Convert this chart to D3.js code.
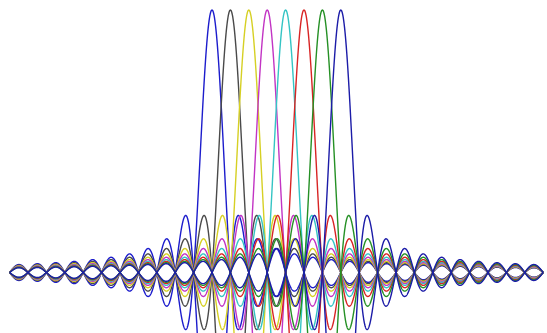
<!DOCTYPE html>
<html><head><meta charset="utf-8">
<script src="https://cdn.jsdelivr.net/npm/d3@7"></script>
<style>html,body{margin:0;padding:0;background:#fff;overflow:hidden}</style>
</head><body>
<svg id="c" width="547" height="333"></svg>
<script>
// Subcarrier centre frequencies (normalised units) and their colours
const carriers = [0, 1, 2, 3, 4, 5, 6, 7];
const colors = ["#1c1ccc", "#4a4a4a", "#d6d024", "#c234c4", "#34c4c4", "#d82424", "#259025", "#1c1ca8"];
const freqRange = [-11, 18];
const signs = [1, -1];

const svg = d3.select("#c");
const x = d3.scaleLinear().domain(freqRange).range([9.6, 543.2]);
const y = d3.scaleLinear().domain([-1, 1]).range([535, 10]);

const step = 0.01;
const fs = d3.range(freqRange[0], freqRange[1] + step / 2, step);
const sinc = t => (Math.abs(t) < 1e-9 ? 1 : Math.sin(Math.PI * t) / (Math.PI * t));

carriers.forEach((k, i) => {
  signs.forEach(s => {
    const line = d3.line()
      .x(f => x(f))
      .y(f => y(s * sinc(f - k)));
    svg.append("path")
      .attr("d", line(fs))
      .attr("fill", "none")
      .attr("stroke", colors[i])
      .attr("stroke-width", 1.4);
  });
});
</script>
</body></html>
